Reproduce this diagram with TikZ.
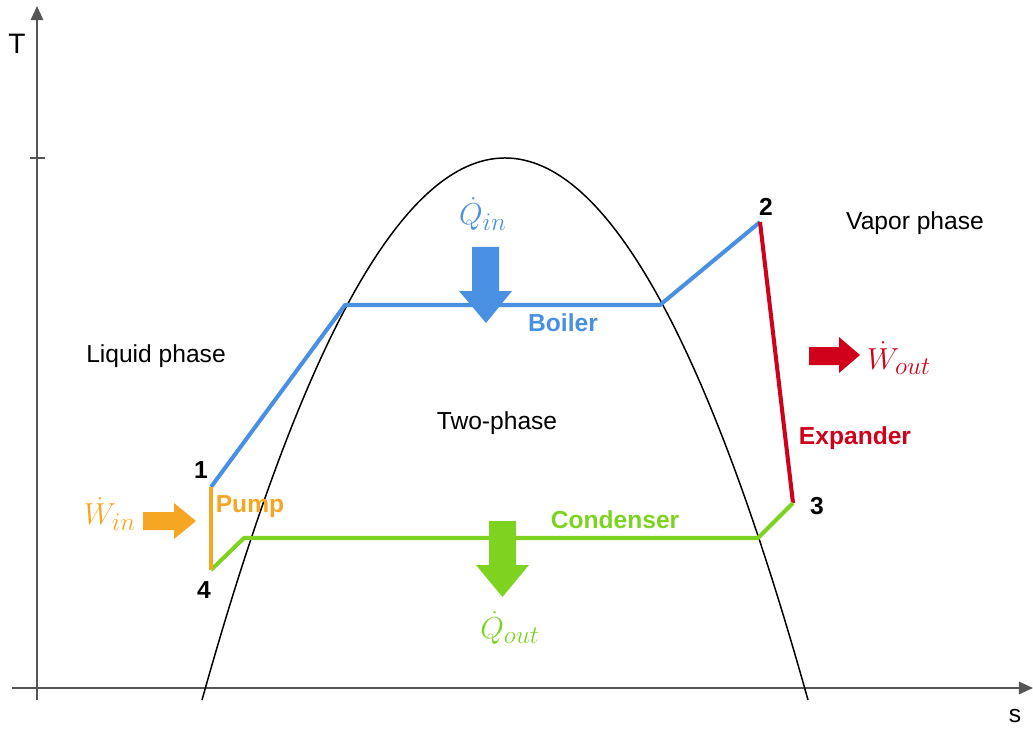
\documentclass[tikz,border=0pt]{standalone}
\usepackage{fontspec}
\setmainfont{Liberation Sans}
\usetikzlibrary{arrows.meta}
\definecolor{cblue}{RGB}{74,144,226}
\definecolor{corange}{RGB}{245,166,35}
\definecolor{cgreen}{RGB}{126,211,33}
\definecolor{cred}{RGB}{208,2,27}
\definecolor{caxis}{RGB}{85,85,85}
\begin{document}
\begin{tikzpicture}[x=0.02cm,y=-0.02cm,
  axisline/.style={caxis,line width=1.2pt,-{Triangle[length=8pt,width=7pt]}},
  cyc/.style={line width=2.3pt,line join=round},
  lbl/.style={font=\fontsize{14}{16}\selectfont,inner sep=0pt},
  num/.style={font=\fontsize{14}{16}\selectfont\bfseries,inner sep=0pt},
  mlbl/.style={font=\fontsize{19}{22}\selectfont,inner sep=0pt}]
\useasboundingbox (0,0) rectangle (1033,729);
% axes
\coordinate (yb) at (37,700);
\coordinate (yt) at (37,6);
\coordinate (xl) at (12,688);
\coordinate (xr) at (1033,688);
\draw[axisline] (yb) -- (yt);
\draw[axisline] (xl) -- (xr);
\draw[caxis,line width=1.2pt] (30,158) -- (45,158);
\node[lbl,font=\fontsize{16}{18}\selectfont] (T) at (17,44) {T};
\node[lbl] (S) at (1015,716) {s};
% saturation dome
\draw[black,line width=0.85pt] (202,700) .. controls (404,-22.7) and (606,-22.7) .. (808,700);
% cycle points
\coordinate (p1) at (211,487);
\coordinate (b1) at (345,305);
\coordinate (b2) at (660,305);
\coordinate (p2) at (760,222);
\coordinate (p3) at (793,503);
\coordinate (c1) at (758,538);
\coordinate (c2) at (244,538);
\coordinate (p4) at (211,570);
\draw[cyc,cblue] (p1) -- (b1) -- (b2) -- (p2);
\draw[cyc,cred] (p2) -- (p3);
\draw[cyc,cgreen] (p3) -- (c1) -- (c2) -- (p4);
\draw[cyc,corange] (p4) -- (p1);
% numbers
\node[num] (n1) at (201,470) {1};
\node[num] (n2) at (766,207) {2};
\node[num] (n3) at (817,506) {3};
\node[num] (n4) at (204,590) {4};
% region labels
\node[lbl] (liq) at (156,356) {Liquid phase};
\node[lbl] (vap) at (915,223) {Vapor phase};
\node[lbl] (two) at (497,423) {Two-phase};
% process labels
\node[num,text=cblue] (boiler) at (563,323) {Boiler};
\node[num,text=corange] (pump) at (250,507) {Pump};
\node[num,text=cgreen] (cond) at (615,520) {Condenser};
\node[num,text=cred] (exp) at (855,438) {Expander};
% block arrows
\fill[cblue] (472,247) -- (499,247) -- (499,291) -- (512,291) -- (486,323) -- (459,291) -- (472,291) -- cycle;
\fill[cgreen] (489,521) -- (516,521) -- (516,565) -- (529,565) -- (502.5,597) -- (476,565) -- (489,565) -- cycle;
\fill[cred] (809,347) -- (839,347) -- (839,337) -- (860,355) -- (839,373) -- (839,365) -- (809,365) -- cycle;
\fill[corange] (143,512) -- (174,512) -- (174,503) -- (196,521) -- (174,539) -- (174,530) -- (143,530) -- cycle;
% heat and work labels
\node[mlbl,text=cblue] (qin) at (483,214) {$\dot{Q}_{in}$};
\node[mlbl,text=cgreen] (qout) at (510,628) {$\dot{Q}_{out}$};
\node[mlbl,text=cred] (wout) at (899,358) {$\dot{W}_{out}$};
\node[mlbl,text=corange] (win) at (110,514) {$\dot{W}_{in}$};
\end{tikzpicture}
\end{document}
